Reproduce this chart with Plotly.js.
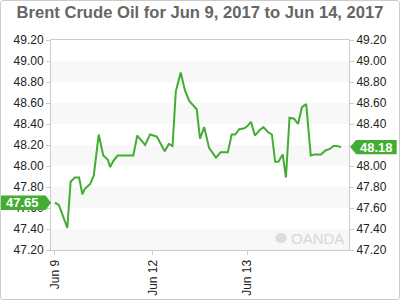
<!DOCTYPE html>
<html>
<head>
<meta charset="utf-8">
<script src="https://cdn.plot.ly/plotly-3.0.1.min.js"></script>
<style>
  html, body { margin: 0; padding: 0; background: #fff; }
  #wrap { position: relative; width: 400px; height: 300px; }
  #chart { width: 400px; height: 300px; }
  #frame { position: absolute; left: 0; top: 0; width: 398px; height: 298px; border: 1px solid #cccccc; border-radius: 3px; pointer-events: none; }
</style>
</head>
<body>
<div id="wrap"><div id="chart"></div><div id="frame"></div></div>
<script>
const titleText = "Brent Crude Oil for Jun 9, 2017 to Jun 14, 2017";

const times = [
  '2017-06-09 00:00','2017-06-09 01:00','2017-06-09 02:05','2017-06-09 03:10','2017-06-09 04:00',
  '2017-06-09 05:05','2017-06-09 06:10','2017-06-09 07:00','2017-06-09 07:35','2017-06-09 09:00',
  '2017-06-09 09:55','2017-06-09 11:10','2017-06-09 12:20','2017-06-09 13:30','2017-06-09 14:05',
  '2017-06-09 14:55','2017-06-09 16:00','2017-06-09 20:00','2017-06-09 21:00','2017-06-11 22:00',
  '2017-06-11 23:15','2017-06-12 01:00','2017-06-12 03:00','2017-06-12 04:05','2017-06-12 05:00',
  '2017-06-12 05:50','2017-06-12 07:05','2017-06-12 08:10','2017-06-12 09:15','2017-06-12 11:10',
  '2017-06-12 12:00','2017-06-12 13:05','2017-06-12 14:20','2017-06-12 16:05','2017-06-12 17:15',
  '2017-06-12 19:05','2017-06-12 20:05','2017-06-12 21:00','2017-06-12 22:00','2017-06-12 23:20',
  '2017-06-13 00:05','2017-06-13 01:00','2017-06-13 02:00','2017-06-13 03:10','2017-06-13 04:10',
  '2017-06-13 05:25','2017-06-13 06:20','2017-06-13 07:10','2017-06-13 08:00','2017-06-13 09:05',
  '2017-06-13 09:55','2017-06-13 10:50','2017-06-13 12:00','2017-06-13 13:00','2017-06-13 14:00',
  '2017-06-13 15:05','2017-06-13 16:15','2017-06-13 17:10','2017-06-13 18:50','2017-06-13 20:05',
  '2017-06-13 21:00','2017-06-13 22:05','2017-06-13 22:55','2017-06-14 00:00'
];

const prices = [
  47.65, 47.63, 47.52, 47.41, 47.85,
  47.89, 47.89, 47.73, 47.78, 47.83,
  47.91, 48.30, 48.10, 48.06, 47.99,
  48.05, 48.10, 48.10, 48.29, 48.20,
  48.30, 48.28, 48.14, 48.21, 48.19,
  48.71, 48.89, 48.72, 48.62, 48.54,
  48.26, 48.37, 48.17, 48.08, 48.13,
  48.13, 48.30, 48.30, 48.35, 48.36,
  48.38, 48.42, 48.29, 48.34, 48.37,
  48.32, 48.30, 48.04, 48.04, 48.11,
  47.89, 48.46, 48.45, 48.40, 48.56,
  48.59, 48.10, 48.11, 48.11, 48.15,
  48.16, 48.19, 48.19, 48.18
];

const xTickVals = ['2017-06-09', '2017-06-12', '2017-06-13'];
const xTickText = ['Jun 9', 'Jun 12', 'Jun 13'];
const yTickVals = [47.2, 47.4, 47.6, 47.8, 48.0, 48.2, 48.4, 48.6, 48.8, 49.0, 49.2];
const weekendGap = ['2017-06-09 21:30', '2017-06-11 20:30'];
const xRange = ['2017-06-08 23:00', '2017-06-14 02:00'];

const green = '#41ad31';
const font = 'Liberation Sans, Arial, sans-serif';

const openVal = prices[0];
const lastVal = prices[prices.length - 1];

// alternating light bands: [48.8,49.0],[48.4,48.6],[48.0,48.2],[47.6,47.8],[47.2,47.4]
const shapes = [];
for (let i = yTickVals.length - 2; i >= 1; i -= 2) {
  shapes.push({
    type: 'rect', xref: 'paper', yref: 'y', x0: 0, x1: 1,
    y0: yTickVals[i - 1], y1: yTickVals[i],
    fillcolor: '#f8f8f8', line: { width: 0 }, layer: 'below'
  });
}

// value tags
const h = 0.068;
shapes.push({
  type: 'path', xref: 'paper', yref: 'y',
  path: `M -0.175 ${openVal - h} L -0.018 ${openVal - h} L 0 ${openVal} L -0.018 ${openVal + h} L -0.175 ${openVal + h} Z`,
  fillcolor: green, line: { width: 0 }
});
shapes.push({
  type: 'path', xref: 'paper', yref: 'y',
  path: `M 1.004 ${lastVal} L 1.024 ${lastVal - h} L 1.16 ${lastVal - h} L 1.16 ${lastVal + h} L 1.024 ${lastVal + h} Z`,
  fillcolor: green, line: { width: 0 }
});
// watermark logo circle
shapes.push({
  type: 'circle', xref: 'paper', yref: 'paper',
  x0: 0.752, x1: 0.792, y0: 0.033, y1: 0.081,
  fillcolor: '#dddddd', line: { width: 0 }, layer: 'below'
});

const annotations = [
  { xref: 'paper', yref: 'y', x: -0.094, y: openVal, text: openVal.toFixed(2), showarrow: false,
    font: { family: font, size: 13, color: '#ffffff', weight: 'bold' }, xanchor: 'center', yanchor: 'middle' },
  { xref: 'paper', yref: 'y', x: 1.092, y: lastVal, text: lastVal.toFixed(2), showarrow: false,
    font: { family: font, size: 13, color: '#ffffff', weight: 'bold' }, xanchor: 'center', yanchor: 'middle' },
  { xref: 'paper', yref: 'paper', x: 0.99, y: 0.057, text: 'OANDA', showarrow: false,
    font: { family: font, size: 15, color: '#d6d6d6' }, xanchor: 'right', yanchor: 'middle' }
];

const traces = [
  { x: times, y: prices, type: 'scatter', mode: 'lines', line: { color: green, width: 2 },
    hoverinfo: 'x+y', showlegend: false, xaxis: 'x', yaxis: 'y' },
  { x: times, y: prices, type: 'scatter', mode: 'lines', line: { color: 'rgba(0,0,0,0)', width: 0 },
    hoverinfo: 'skip', showlegend: false, xaxis: 'x', yaxis: 'y2' }
];

const yCommon = {
  range: [yTickVals[0], yTickVals[yTickVals.length - 1]],
  tickmode: 'array', tickvals: yTickVals, ticktext: yTickVals.map(v => v.toFixed(2)),
  showgrid: false, zeroline: false, ticks: 'outside', ticklen: 4, tickcolor: '#cccccc',
  tickfont: { family: font, size: 12, color: '#222222' }, fixedrange: true
};

const layout = {
  width: 400, height: 300,
  margin: { l: 51, r: 51, t: 40, b: 50 },
  paper_bgcolor: '#ffffff', plot_bgcolor: '#ffffff',
  title: { text: titleText, font: { family: font, size: 16.6, color: '#666666', weight: 'bold' },
    x: 0.5, xanchor: 'center', y: 0.958, yanchor: 'middle', yref: 'container' },
  xaxis: {
    type: 'date', range: xRange,
    rangebreaks: [{ bounds: weekendGap }],
    tickmode: 'array', tickvals: xTickVals, ticktext: xTickText, tickangle: -90,
    ticks: 'outside', ticklen: 4, tickcolor: '#cccccc',
    tickfont: { family: font, size: 12, color: '#222222' },
    showgrid: false, zeroline: false, showline: true, linecolor: '#cccccc', mirror: true
  },
  yaxis: Object.assign({}, yCommon, { side: 'left', showline: true, linecolor: '#cccccc', mirror: true }),
  yaxis2: Object.assign({}, yCommon, { side: 'right', overlaying: 'y', showline: false }),
  shapes: shapes,
  annotations: annotations,
  showlegend: false
};

Plotly.newPlot('chart', traces, layout, { displayModeBar: false, staticPlot: true });
</script>
</body>
</html>
